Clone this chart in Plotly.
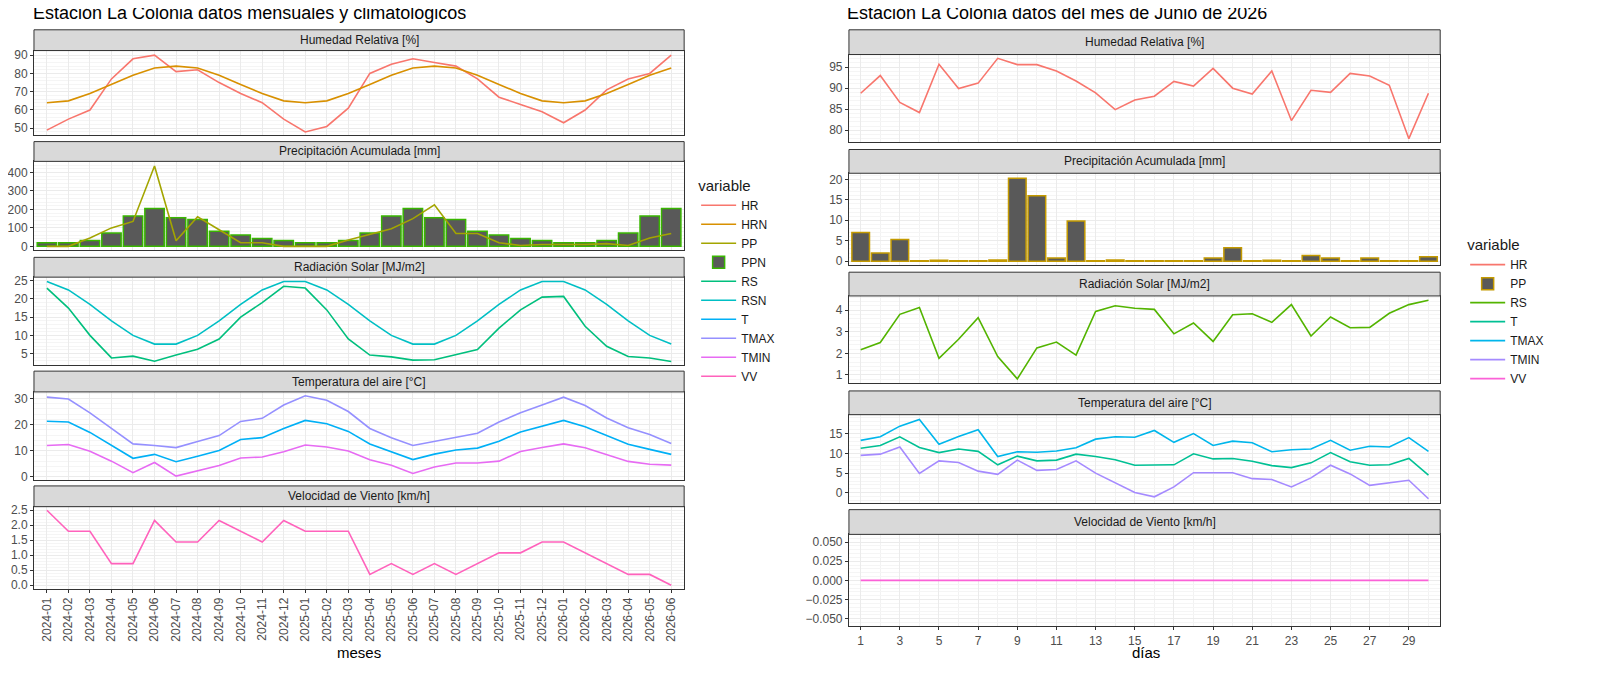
import plotly.graph_objects as go

# ---- monthly data (left)
meses = ["2024-%02d" % m for m in range(1, 13)] + ["2025-%02d" % m for m in range(1, 13)] + ["2026-%02d" % m for m in range(1, 7)]
HR = [49, 55, 60, 77, 88, 90, 81, 82, 75, 69, 64, 55, 48, 51, 61, 80, 85, 88, 86, 84, 77, 67, 63, 59, 53, 60, 71, 77, 80, 90]
HRN = [64, 65, 69, 74, 79, 83, 84, 83, 79, 74, 69, 65, 64, 65, 69, 74, 79, 83, 84, 83, 79, 74, 69, 65, 64, 65, 69, 74, 79, 83]
PPN = [20, 20, 32, 72, 165, 205, 155, 145, 82, 62, 42, 32, 20, 20, 32, 72, 165, 205, 155, 145, 82, 62, 42, 32, 20, 20, 32, 72, 165, 205]
PP_m = [0, 0, 45, 100, 135, 435, 30, 160, 90, 20, 20, 0, 0, 0, 35, 65, 95, 150, 225, 70, 70, 20, 5, 10, 10, 10, 15, 5, 45, 70]
RS_m = [23, 17.5, 10, 3.8, 4.3, 2.9, 4.6, 6.2, 9, 15, 19, 23.5, 23, 17, 9, 4.6, 4.1, 3.2, 3.3, 4.8, 6.1, 12, 17, 20.5, 20.7, 12.5, 7, 4.2, 3.8, 2.8]
RSN = [24.8, 22.5, 18.5, 14, 10, 7.6, 7.6, 10, 14, 18.5, 22.5, 24.8, 24.8, 22.5, 18.5, 14, 10, 7.6, 7.6, 10, 14, 18.5, 22.5, 24.8, 24.8, 22.5, 18.5, 14, 10, 7.6]
TMAX_m = [30.5, 29.8, 24.5, 18.5, 12.6, 12, 11.2, 13.5, 15.8, 21.2, 22.4, 27.5, 31, 29.3, 25, 18.5, 15, 12, 13.6, 15.3, 16.7, 21, 24.5, 27.5, 30.5, 27.3, 22.5, 18.8, 16.2, 12.8]
T_m = [21.3, 21, 17, 12, 7.1, 8.6, 5.8, 7.9, 10.1, 14.3, 15, 18.5, 21.6, 20.3, 17.4, 12.6, 9.6, 6.6, 8.7, 10.3, 11, 13.6, 17.2, 19.5, 21.6, 19.2, 15.8, 12.5, 10.5, 8.6]
TMIN_m = [12, 12.4, 9.8, 6, 1.6, 5.5, 0.3, 2.3, 4.3, 7.2, 7.6, 9.6, 12.2, 11.4, 9.9, 6.5, 4.4, 1.3, 3.8, 5.3, 5.3, 6, 9.7, 11.2, 12.6, 11.1, 8.6, 5.9, 4.8, 4.5]
VV_m = [2.5, 1.8, 1.8, 0.72, 0.72, 2.16, 1.44, 1.44, 2.16, 1.8, 1.44, 2.16, 1.8, 1.8, 1.8, 0.36, 0.72, 0.36, 0.72, 0.36, 0.72, 1.08, 1.08, 1.44, 1.44, 1.08, 0.72, 0.36, 0.36, 0]

# ---- daily data (right)
dias = list(range(1, 31))
HR_d = [88.8, 93, 86.6, 84.2, 95.7, 89.9, 91.2, 97.1, 95.6, 95.6, 94.1, 91.7, 88.9, 84.9, 87.2, 88.1, 91.6, 90.5, 94.7, 90, 88.6, 94.1, 82.3, 89.5, 89, 93.5, 92.9, 90.7, 78, 88.8]
PP_d = [7, 2, 5.3, 0.1, 0.2, 0.1, 0.1, 0.3, 20.3, 16, 0.8, 9.8, 0.1, 0.3, 0.1, 0.1, 0.1, 0.1, 0.8, 3.3, 0.1, 0.2, 0.1, 1.4, 0.8, 0.1, 0.8, 0.1, 0.1, 1.1]
RS_d = [2.17, 2.5, 3.8, 4.12, 1.77, 2.65, 3.65, 1.85, 0.82, 2.25, 2.52, 1.92, 3.93, 4.2, 4.08, 4.03, 2.9, 3.4, 2.55, 3.78, 3.83, 3.43, 4.25, 2.8, 3.68, 3.18, 3.2, 3.85, 4.25, 4.45]
TMAX_d = [13.3, 14.2, 16.9, 18.6, 12.3, 14.3, 16, 9.2, 10.4, 10.3, 10.6, 11.4, 13.6, 14.2, 14.1, 15.8, 12.8, 15, 12, 13.1, 12.7, 10.4, 10.9, 11.1, 13.3, 10.8, 11.8, 11.6, 14, 10.5]
T_d = [11.3, 12, 14.2, 11.5, 10.2, 11.1, 10.5, 7.1, 9.3, 8.1, 8.3, 9.8, 9.2, 8.4, 7, 7.1, 7.1, 9.9, 8.6, 8.7, 8, 6.9, 6.4, 7.6, 10.2, 7.9, 7, 7.1, 8.7, 4.5]
TMIN_d = [9.5, 9.8, 11.6, 4.9, 8.1, 7.7, 5.5, 4.7, 8.3, 5.7, 5.9, 8.1, 5, 2.6, 0.1, -1, 1.5, 5.1, 5.1, 5.1, 3.6, 3.4, 1.5, 3.8, 7, 4.8, 1.9, 2.6, 3.2, -1.5]
VV_d = [0] * 30

panel_titles = ["Humedad Relativa [%]", "Precipitación Acumulada [mm]", "Radiación Solar [MJ/m2]",
                "Temperatura del aire [°C]", "Velocidad de Viento [km/h]"]

# page body has an 8px margin
OFF = 8
W, H = 1600 - 2 * OFF, 676 - 2 * OFF
def fx(a): return (a - OFF) / W
def fy(a): return 1 - (a - OFF) / H
def px_x(a, b): return [fx(a), fx(b)]
def px_y(a, b): return [fy(b), fy(a)]

left_plots = [(48, 133), (160, 250), (277, 366), (393, 482), (509, 592)]
left_strips = [(27, 48), (140, 160), (257, 277), (372, 393), (488, 509)]
right_plots = [(52, 140), (172, 265), (296, 384), (416, 505), (537, 630)]
right_strips = [(27, 52), (148, 172), (272, 296), (392, 416), (512, 537)]
LX, RX = (32, 683), (848, 1440)

fig = go.Figure()
idx = list(range(30))
cl = dict(HR="#F8766D", HRN="#D89000", PP="#A3A500", PPN="#39B600", RS="#00BF7D", RSN="#00BFC4",
          T="#00B0F6", TMAX="#9590FF", TMIN="#E76BF3", VV="#FF62BC")
cr = dict(HR="#F8766D", PP="#C49A00", RS="#53B400", T="#00C094", TMAX="#00B6EB", TMIN="#A58AFF", VV="#FB61D7")

def line(x, y, name, color, ax, leg):
    fig.add_trace(go.Scatter(x=x, y=y, name=name, mode="lines", line=dict(color=color, width=1.6),
                             xaxis="x" + ax, yaxis="y" + ax, legend=leg))

# left (axes 1-5)
line(idx, HR, "HR", cl["HR"], "1", "legend")
line(idx, HRN, "HRN", cl["HRN"], "1", "legend")
fig.add_trace(go.Bar(x=idx, y=PPN, name="PPN", width=0.9, marker=dict(color="#595959", line=dict(color=cl["PPN"], width=1.5)),
                     xaxis="x2", yaxis="y2", legend="legend", legendrank=1001))
line(idx, PP_m, "PP", cl["PP"], "2", "legend")
fig.data[-1].legendrank = 1000
line(idx, RS_m, "RS", cl["RS"], "3", "legend")
line(idx, RSN, "RSN", cl["RSN"], "3", "legend")
line(idx, T_m, "T", cl["T"], "4", "legend")
line(idx, TMAX_m, "TMAX", cl["TMAX"], "4", "legend")
line(idx, TMIN_m, "TMIN", cl["TMIN"], "4", "legend")
line(idx, VV_m, "VV", cl["VV"], "5", "legend")
for i, tr in enumerate(fig.data):
    tr.legendrank = {"HR": 1, "HRN": 2, "PP": 3, "PPN": 4, "RS": 5, "RSN": 6, "T": 7, "TMAX": 8, "TMIN": 9, "VV": 10}[tr.name]

# right (axes 6-10)
line(dias, HR_d, "HR", cr["HR"], "6", "legend2")
fig.add_trace(go.Bar(x=dias, y=PP_d, name="PP", width=0.9, marker=dict(color="#595959", line=dict(color=cr["PP"], width=1.5)),
                     xaxis="x7", yaxis="y7", legend="legend2"))
line(dias, RS_d, "RS", cr["RS"], "8", "legend2")
line(dias, T_d, "T", cr["T"], "9", "legend2")
line(dias, TMAX_d, "TMAX", cr["TMAX"], "9", "legend2")
line(dias, TMIN_d, "TMIN", cr["TMIN"], "9", "legend2")
line(dias, VV_d, "VV", cr["VV"], "10", "legend2")

left_y = [dict(range=[46.5, 92.5], dtick=10), dict(range=[-22, 460], dtick=100), dict(range=[1.8, 26], dtick=5),
          dict(range=[-1.2, 32.5], dtick=10), dict(range=[-0.12, 2.62], dtick=0.5, tickformat=".1f")]
right_y = [dict(range=[77.3, 98], dtick=5), dict(range=[-1, 21.5], dtick=5), dict(range=[0.63, 4.65], dtick=1),
           dict(range=[-2.5, 19.8], dtick=5), dict(range=[-0.06, 0.06], dtick=0.025, tickformat=".3f")]

tickf = dict(size=12, color="#4D4D4D", family="Liberation Sans")
lay = {}
shapes, annots = [], []
for side in range(2):
    for i in range(5):
        n = side * 5 + i + 1
        sfx = "" if n == 1 else str(n)
        xr = LX if side == 0 else RX
        p = (left_plots if side == 0 else right_plots)[i]
        s = (left_strips if side == 0 else right_strips)[i]
        last = i == 4
        xa = dict(domain=px_x(*xr), anchor="y" + sfx, showgrid=True, gridcolor="#EBEBEB", zeroline=False,
                  showline=True, mirror=True, linecolor="#333333", linewidth=1, tickfont=tickf,
                  ticks="outside" if last else "", ticklen=3, tickcolor="#333333", showticklabels=last)
        if side == 0:
            xa.update(range=[-0.6, 29.6], tickmode="array", tickvals=idx, ticktext=meses, tickangle=-90)
        else:
            xa.update(range=[0.4, 30.6], tickmode="array", tickvals=list(range(1, 30, 2)),
                      minor=dict(showgrid=True, gridcolor="#F2F2F2", tickvals=list(range(2, 31, 2))))
        ya = dict(domain=px_y(*p), anchor="x" + sfx, showgrid=True, gridcolor="#EBEBEB", zeroline=False,
                  showline=True, mirror=True, linecolor="#333333", linewidth=1, tickfont=tickf,
                  ticks="outside", ticklen=3, tickcolor="#333333",
                  minor=dict(showgrid=True, gridcolor="#F5F5F5"))
        ya.update((left_y if side == 0 else right_y)[i])
        lay["xaxis" + sfx] = xa
        lay["yaxis" + sfx] = ya
        shapes.append(dict(type="rect", xref="paper", yref="paper", x0=fx(xr[0]), x1=fx(xr[1]),
                           y0=fy(s[1]), y1=fy(s[0]), fillcolor="#D9D9D9",
                           line=dict(color="#333333", width=1), layer="above"))
        annots.append(dict(text=panel_titles[i], xref="paper", yref="paper", x=fx((xr[0] + xr[1]) / 2),
                           y=fy((s[0] + s[1]) / 2), xanchor="center", yanchor="middle", showarrow=False,
                           font=dict(size=12, color="#1A1A1A")))

annots += [
    dict(text="Estación La Colonia datos mensuales y climatológicos", xref="paper", yref="paper", x=fx(29), y=fy(10),
         xanchor="left", yanchor="middle", showarrow=False, font=dict(size=18, color="#000")),
    dict(text="Estación La Colonia datos del mes de Junio de 2026", xref="paper", yref="paper", x=fx(844), y=fy(10),
         xanchor="left", yanchor="middle", showarrow=False, font=dict(size=18, color="#000")),
    dict(text="meses", xref="paper", yref="paper", x=fx(357), y=fy(656), xanchor="center", yanchor="middle",
         showarrow=False, font=dict(size=15, color="#000")),
    dict(text="días", xref="paper", yref="paper", x=fx(1145), y=fy(656), xanchor="center", yanchor="middle",
         showarrow=False, font=dict(size=15, color="#000")),
]

legstyle = dict(font=dict(size=12, color="#1A1A1A"), bgcolor="rgba(0,0,0,0)", tracegroupgap=0,
                itemwidth=35, xanchor="left", yanchor="top")
fig.update_layout(
    width=W, height=H, margin=dict(l=0, r=0, t=0, b=0), plot_bgcolor="white", paper_bgcolor="white",
    font=dict(family="Liberation Sans"), shapes=shapes, annotations=annots, bargap=0.1,
    legend=dict(title=dict(text="variable", font=dict(size=15)), x=fx(695), y=fy(170), **legstyle),
    legend2=dict(title=dict(text="variable", font=dict(size=15)), x=fx(1465), y=fy(230), **legstyle),
    **lay,
)
fig.write_html("out.html")
